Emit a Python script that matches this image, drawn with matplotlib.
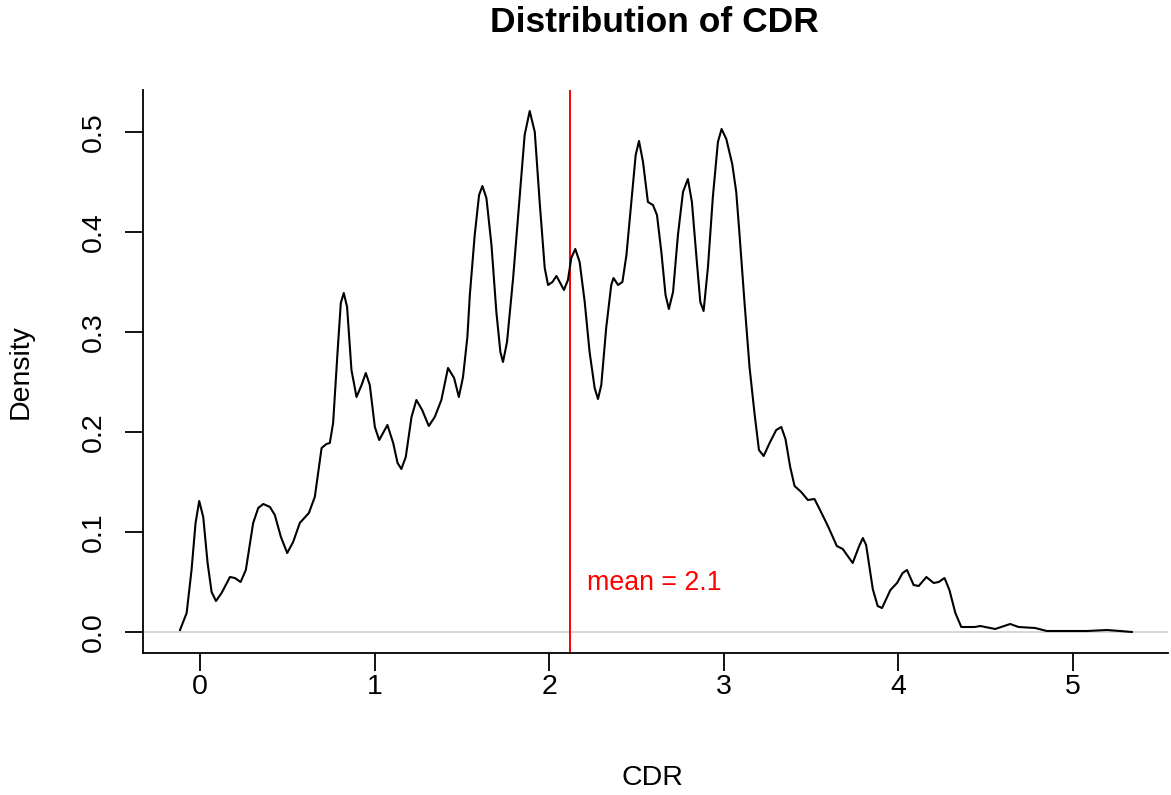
import matplotlib
matplotlib.use("Agg")
import matplotlib.pyplot as plt

# These are the density curve points.
CDR_X = [
    -0.114, -0.076, -0.048, -0.025, -0.004, 0.019, 0.044, 0.067, 0.092, 0.124,
    0.172, 0.200, 0.233, 0.263, 0.305, 0.334, 0.363, 0.401, 0.429, 0.464,
    0.500, 0.534, 0.572, 0.624, 0.658, 0.697, 0.725, 0.744, 0.763, 0.788,
    0.807, 0.824, 0.843, 0.868, 0.897, 0.926, 0.950, 0.973, 1.002, 1.027,
    1.074, 1.107, 1.132, 1.154, 1.179, 1.212, 1.240, 1.273, 1.311, 1.345,
    1.383, 1.421, 1.456, 1.483, 1.507, 1.532, 1.546, 1.574, 1.599, 1.618,
    1.641, 1.670, 1.698, 1.721, 1.736, 1.759, 1.794, 1.828, 1.860, 1.889,
    1.918, 1.946, 1.975, 1.994, 2.019, 2.042, 2.061, 2.085, 2.108, 2.127,
    2.150, 2.175, 2.204, 2.232, 2.261, 2.280, 2.299, 2.327, 2.356, 2.369,
    2.395, 2.420, 2.443, 2.471, 2.496, 2.515, 2.538, 2.566, 2.595, 2.618,
    2.643, 2.667, 2.686, 2.710, 2.738, 2.767, 2.795, 2.818, 2.843, 2.866,
    2.885, 2.910, 2.938, 2.967, 2.988, 3.015, 3.049, 3.072, 3.091, 3.120,
    3.148, 3.177, 3.202, 3.229, 3.263, 3.301, 3.330, 3.354, 3.381, 3.406,
    3.444, 3.482, 3.520, 3.549, 3.597, 3.648, 3.682, 3.739, 3.774, 3.797,
    3.816, 3.854, 3.882, 3.907, 3.955, 3.993, 4.025, 4.050, 4.088, 4.117,
    4.161, 4.203, 4.232, 4.265, 4.293, 4.327, 4.361, 4.438, 4.470, 4.555,
    4.641, 4.689, 4.784, 4.851, 4.966, 5.080, 5.195, 5.271, 5.338,
]
DENSITY = [
    0.002, 0.019, 0.062, 0.109, 0.131, 0.115, 0.069, 0.040, 0.031, 0.039,
    0.055, 0.054, 0.050, 0.062, 0.109, 0.124, 0.128, 0.125, 0.117, 0.095,
    0.079, 0.090, 0.109, 0.119, 0.135, 0.184, 0.188, 0.189, 0.209, 0.279,
    0.329, 0.339, 0.325, 0.262, 0.235, 0.247, 0.259, 0.247, 0.205, 0.192,
    0.207, 0.189, 0.169, 0.163, 0.175, 0.215, 0.232, 0.222, 0.206, 0.215,
    0.232, 0.264, 0.254, 0.235, 0.255, 0.295, 0.337, 0.397, 0.437, 0.446,
    0.434, 0.387, 0.320, 0.280, 0.270, 0.290, 0.354, 0.427, 0.497, 0.521,
    0.500, 0.430, 0.364, 0.347, 0.350, 0.356, 0.350, 0.342, 0.352, 0.374,
    0.383, 0.370, 0.330, 0.280, 0.244, 0.233, 0.247, 0.304, 0.347, 0.354,
    0.347, 0.350, 0.377, 0.430, 0.477, 0.491, 0.470, 0.430, 0.427, 0.417,
    0.380, 0.337, 0.323, 0.340, 0.397, 0.440, 0.453, 0.430, 0.377, 0.330,
    0.321, 0.365, 0.435, 0.490, 0.503, 0.493, 0.468, 0.440, 0.397, 0.328,
    0.265, 0.218, 0.182, 0.176, 0.189, 0.202, 0.205, 0.193, 0.165, 0.146,
    0.140, 0.132, 0.133, 0.123, 0.106, 0.086, 0.083, 0.069, 0.085, 0.094,
    0.087, 0.043, 0.026, 0.024, 0.042, 0.049, 0.059, 0.062, 0.047, 0.046,
    0.055, 0.049, 0.050, 0.054, 0.042, 0.019, 0.005, 0.005, 0.006, 0.003,
    0.008, 0.005, 0.004, 0.001, 0.001, 0.001, 0.002, 0.001, 0.000,
]

# Mean CDR shown by the red line and its label.
MEAN_CDR = 2.12
MEAN_LABEL = "mean = 2.1"

X_TICKS = [0, 1, 2, 3, 4, 5]
Y_TICKS = [0.0, 0.1, 0.2, 0.3, 0.4, 0.5]


def main():
    plt.rcParams["font.family"] = ["Liberation Sans", "DejaVu Sans"]

    fig = plt.figure(figsize=(11.71, 7.95), dpi=100)
    ax = fig.add_axes([143 / 1171, 142 / 795, 1025 / 1171, 563 / 795])

    # Zero line like R's plot.density, then the curve and the mean line.
    ax.axhline(0, color="#d0d0d0", lw=1.2, zorder=1)
    ax.plot(CDR_X, DENSITY, color="black", lw=1.5, zorder=3,
            solid_joinstyle="round")
    ax.axvline(MEAN_CDR, color="red", lw=1.4, zorder=2)
    ax.text(MEAN_CDR + 0.1, 0.049, MEAN_LABEL, color="red", fontsize=19.3,
            ha="left", va="center")

    ax.set_xlim(-0.326, 5.545)
    ax.set_ylim(-0.021, 0.542)
    ax.set_xticks(X_TICKS)
    ax.set_xticklabels([str(t) for t in X_TICKS])
    ax.set_yticks(Y_TICKS)
    ax.set_yticklabels([f"{t:.1f}" for t in Y_TICKS], rotation=90, va="center")

    for side in ["top", "right"]:
        ax.spines[side].set_visible(False)
    for side in ["left", "bottom"]:
        ax.spines[side].set_linewidth(1.3)

    ax.tick_params(axis="both", direction="out", length=13, width=1.3,
                   labelsize=20.5)
    ax.tick_params(axis="x", pad=2)
    ax.tick_params(axis="y", pad=13)

    ax.set_xlabel("CDR", fontsize=20.5)
    ax.set_ylabel("Density", fontsize=20.5)
    ax.xaxis.set_label_coords(0.5 - 3 / 1025, -125 / 563)
    ax.yaxis.set_label_coords(-122 / 1025, 0.5)
    ax.xaxis.label.set_va("center")
    ax.yaxis.label.set_va("center")

    fig.text(654 / 1171, 1 - 22 / 795, "Distribution of CDR", fontsize=25.5,
             fontweight="bold", ha="center", va="center")

    fig.savefig("out.png", dpi=100)
    plt.close(fig)


if __name__ == "__main__":
    main()
